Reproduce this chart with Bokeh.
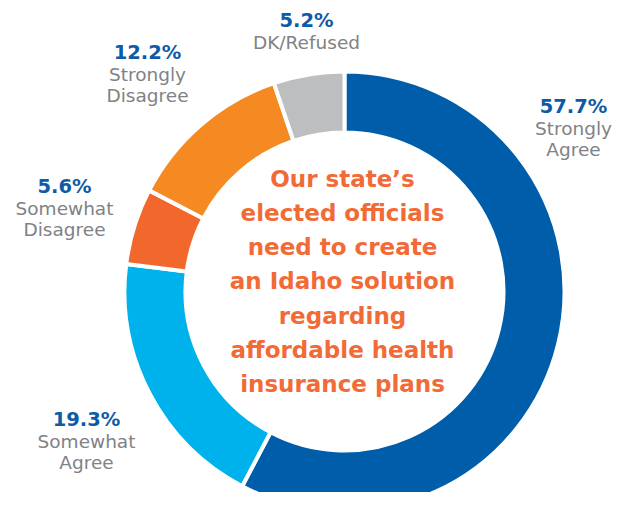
import numpy as np
from bokeh.plotting import figure
from bokeh.models import Range1d, ColumnDataSource
from bokeh.core.properties import value
from bokeh.embed import file_html
from bokeh.resources import INLINE

# ---- data ----
categories = ["Strongly Agree", "Somewhat Agree", "Somewhat Disagree", "Strongly Disagree", "DK/Refused"]
values = [57.7, 19.3, 5.6, 12.2, 5.2]
pct_labels = ["57.7%", "19.3%", "5.6%", "12.2%", "5.2%"]
name_lines = [["Strongly", "Agree"], ["Somewhat", "Agree"], ["Somewhat", "Disagree"],
              ["Strongly", "Disagree"], ["DK/Refused"]]
colors = ["#005DAA", "#00B2EC", "#F2682C", "#F58A22", "#BCBEC0"]
center_lines = ["Our state\u2019s", "elected officials", "need to create", "an Idaho solution",
                "regarding", "affordable health", "insurance plans"]

# ---- layout (pixel-like coordinates, y measured upward) ----
H = 508
cx, cy = 344, H - 291
r_out, r_in = 220, 159
label_pos = [(573, 114), (86, 427), (64, 194), (147, 60), (306, 28)]  # baseline of percent line
font = "DejaVu Sans"
dy = 8  # baseline correction

vals = np.array(values) / sum(values)
cum_end = np.cumsum(vals)
cum_start = cum_end - vals
start_angle = np.pi / 2 - cum_end * 2 * np.pi
end_angle = np.pi / 2 - cum_start * 2 * np.pi

src = ColumnDataSource(dict(cat=categories, start=start_angle, end=end_angle, color=colors))

p = figure(width=613, height=492, output_backend="svg", toolbar_location=None,
           x_range=Range1d(0, 613), y_range=Range1d(16, 508), min_border=0)
p.axis.visible = False
p.grid.visible = False
p.outline_line_color = None
p.background_fill_color = "white"

p.annular_wedge(x=cx, y=cy, inner_radius=r_in, outer_radius=r_out,
                start_angle="start", end_angle="end", direction="anticlock",
                fill_color="color", line_color="white", line_width=4, source=src)

# percent labels and category names
for (lx, ly), pct, lines in zip(label_pos, pct_labels, name_lines):
    p.text(x=[lx], y=[H - ly + dy], text=[pct], text_align="center", text_baseline="alphabetic",
           text_font=value(font), text_font_style="bold", text_font_size="19.5px",
           text_color="#0D5BA8")
    for j, ln in enumerate(lines):
        p.text(x=[lx], y=[H - (ly + 22 + 21 * j) + dy], text=[ln], text_align="center",
               text_baseline="alphabetic", text_font=value(font), text_font_size="18.5px",
               text_color="#808285")

# center text
for i, ln in enumerate(center_lines):
    p.text(x=[342], y=[H - (187 + 34.3 * i) + dy + 1], text=[ln], text_align="center",
           text_baseline="alphabetic", text_font=value(font), text_font_style="bold",
           text_font_size="23px", text_color="#F26A35")

open("out.html", "w").write(file_html(p, INLINE))
